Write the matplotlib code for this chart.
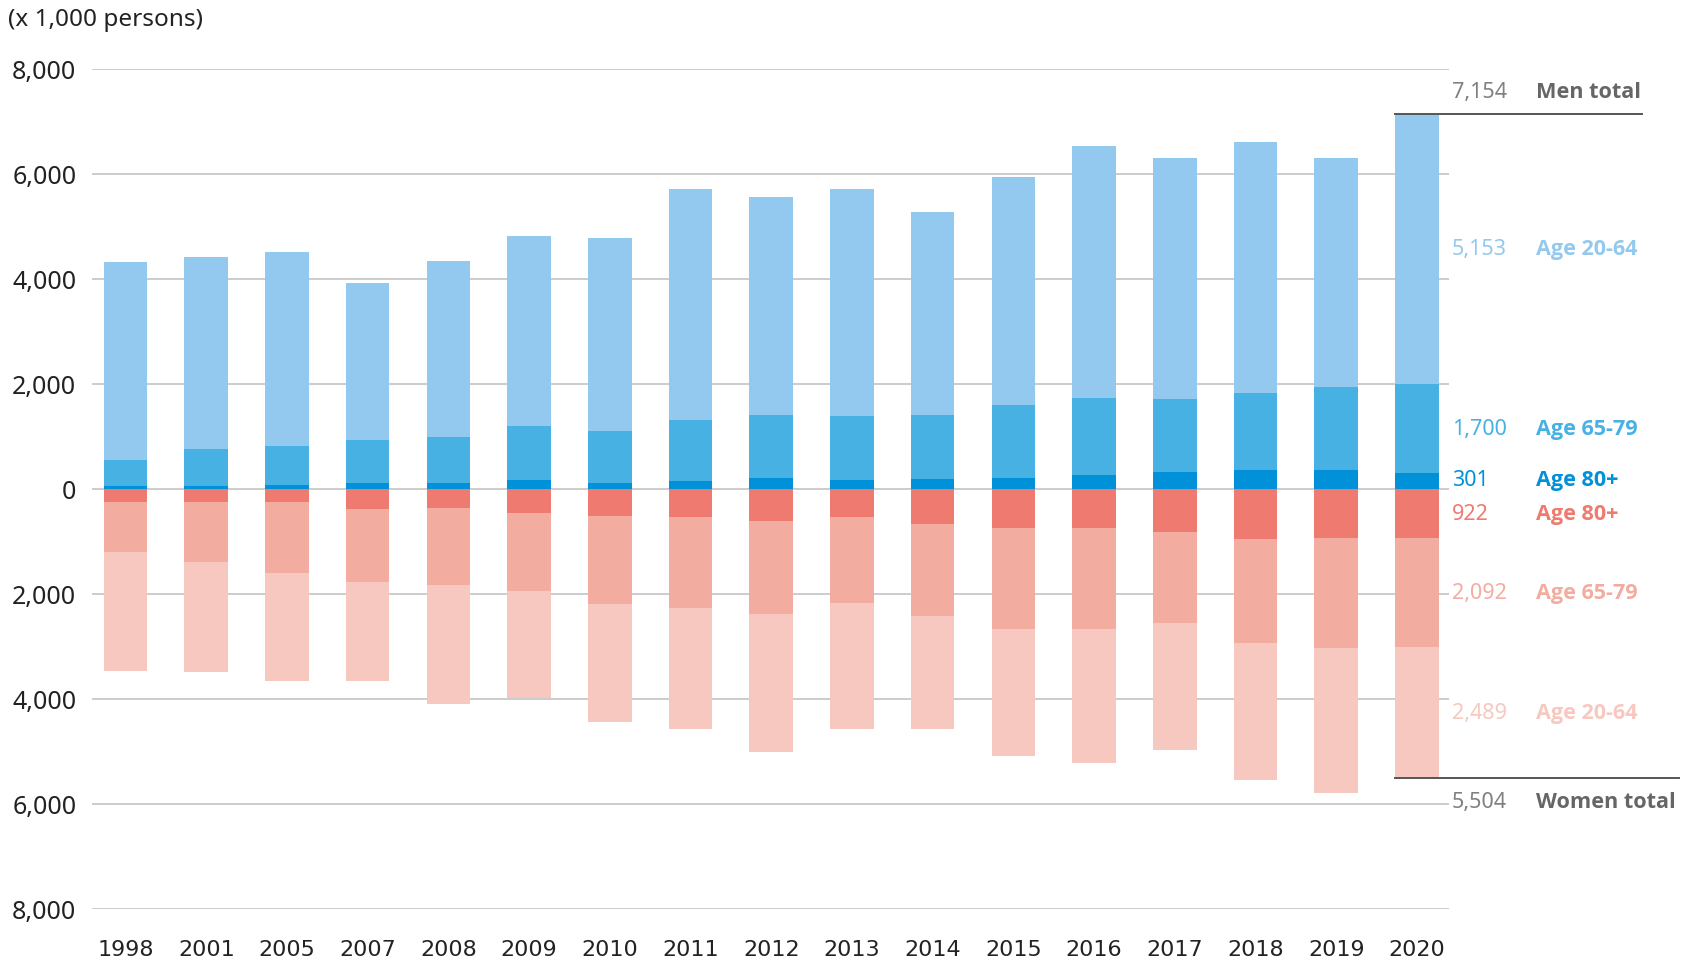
import matplotlib.pyplot as plt
from matplotlib.transforms import blended_transform_factory
from matplotlib.ticker import FuncFormatter

# Dane (x 1000 osób)
years = ["1998", "2001", "2005", "2007", "2008", "2009", "2010", "2011", "2012",
         "2013", "2014", "2015", "2016", "2017", "2018", "2019", "2020"]

men_80 = [63, 63, 82, 120, 120, 177, 120, 158, 215, 170, 190, 210, 267, 324, 362, 362, 301]
men_65_79 = [492, 702, 738, 815, 870, 1023, 985, 1162, 1205, 1214, 1230, 1400, 1478, 1401, 1478, 1588, 1700]
men_20_64 = [3765, 3655, 3690, 2985, 3350, 3630, 3675, 4390, 4150, 4330, 3856, 4333, 4788, 4580, 4770, 4355, 5153]

women_80 = [242, 240, 240, 373, 354, 449, 505, 525, 605, 527, 660, 737, 737, 813, 946, 927, 922]
women_65_79 = [952, 1146, 1355, 1393, 1469, 1491, 1675, 1735, 1765, 1638, 1765, 1923, 1923, 1733, 1981, 2093, 2092]
women_20_64 = [2263, 2090, 2052, 1881, 2277, 2030, 2260, 2318, 2640, 2413, 2153, 2430, 2565, 2414, 2623, 2777, 2489]

men_total_last = 7154
women_total_last = 5504

# Kolory
c_m20, c_m65, c_m80 = "#93c9ee", "#48b1e4", "#0091d9"
c_w80, c_w65, c_w20 = "#ef7a70", "#f3aca0", "#f7c8bf"
grid_c = "#cccccc"
gray_num = "#808080"
gray_lab = "#666666"

plt.rcParams["font.family"] = ["Noto Sans", "DejaVu Sans"]

fig = plt.figure(figsize=(16.97, 9.61), dpi=100)
ax = fig.add_axes([0.054, 0.054, 0.80, 0.874])

x = list(range(len(years)))
w = 0.54

# Mężczyźni (w górę)
ax.bar(x, men_80, w, color=c_m80, zorder=2)
bottom = men_80
ax.bar(x, men_65_79, w, bottom=bottom, color=c_m65, zorder=2)
bottom = [a + b for a, b in zip(men_80, men_65_79)]
ax.bar(x, men_20_64, w, bottom=bottom, color=c_m20, zorder=2)

# Kobiety (w dół)
ax.bar(x, [-v for v in women_80], w, color=c_w80, zorder=2)
bottom = [-v for v in women_80]
ax.bar(x, [-v for v in women_65_79], w, bottom=bottom, color=c_w65, zorder=2)
bottom = [-(a + b) for a, b in zip(women_80, women_65_79)]
ax.bar(x, [-v for v in women_20_64], w, bottom=bottom, color=c_w20, zorder=2)

xmin, xmax = -0.42, 16.4
ax.set_xlim(xmin, xmax)
ax.set_ylim(-8000, 8000)
ax.set_yticks(range(-8000, 8001, 2000))
ax.yaxis.set_major_formatter(FuncFormatter(lambda v, p: f"{abs(int(v)):,}"))
ax.grid(axis="y", color=grid_c, linewidth=1.4, zorder=0)
ax.set_xticks(x)
ax.set_xticklabels(years, fontsize=16, family=["Liberation Sans Narrow", "DejaVu Sans"], color="#222222")
ax.tick_params(axis="x", length=0, pad=22)
ax.tick_params(axis="y", length=0, pad=11, labelsize=18, labelcolor="#222222")
for s in ax.spines.values():
    s.set_visible(False)

fig.text(0.005, 0.979, "(x 1,000 persons)", fontsize=17.5, color="#222222", va="center", ha="left")

# Etykiety po prawej stronie
tr = blended_transform_factory(ax.transAxes, ax.transData)
num_x = 1.002
lab_x = 1.064
i = len(years) - 1
m80, m65, m20 = men_80[i], men_65_79[i], men_20_64[i]
w80, w65, w20 = women_80[i], women_65_79[i], women_20_64[i]

labels = [
    (men_total_last + 400, f"{men_total_last:,}", "Men total", gray_num, gray_lab),
    (m80 + m65 + m20 / 2 - 20, f"{m20:,}", "Age 20-64", c_m20, c_m20),
    (m80 + m65 / 2 - 10, f"{m65:,}", "Age 65-79", c_m65, c_m65),
    (m80 / 2 + 20, f"{m80:,}", "Age 80+", c_m80, c_m80),
    (-w80 / 2 - 30, f"{w80:,}", "Age 80+", c_w80, c_w80),
    (-(w80 + w65 / 2) - 20, f"{w65:,}", "Age 65-79", c_w65, c_w65),
    (-(w80 + w65 + w20 / 2) - 20, f"{w20:,}", "Age 20-64", c_w20, c_w20),
    (-(women_total_last + 470), f"{women_total_last:,}", "Women total", gray_num, gray_lab),
]
for y, num, lab, cn, cl in labels:
    ax.text(num_x, y, num, transform=tr, fontsize=15.5, color=cn, va="center", ha="left", clip_on=False)
    ax.text(lab_x, y, lab, transform=tr, fontsize=15.6, color=cl, va="center", ha="left",
            family=["Open Sans", "DejaVu Sans"], fontweight="bold", clip_on=False)

# Linie sumaryczne
x_left = (i - w / 2 - xmin) / (xmax - xmin)
ax.plot([x_left, 1.142], [men_total_last, men_total_last], transform=tr, color="#555555",
        linewidth=1.4, clip_on=False, zorder=3)
ax.plot([x_left, 1.169], [-women_total_last, -women_total_last], transform=tr, color="#555555",
        linewidth=1.4, clip_on=False, zorder=3)

plt.savefig("out.png", dpi=100)
